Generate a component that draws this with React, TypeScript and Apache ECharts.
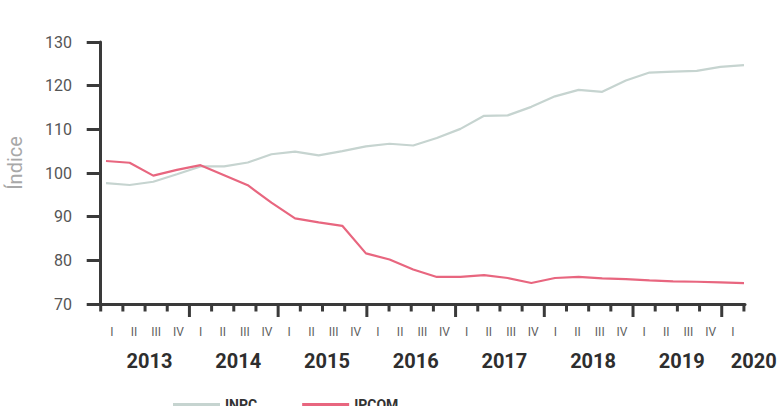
import React, { useEffect, useRef } from "react";
import * as echarts from "echarts";

// Data periods (quarters plotted by the lines)
const periods = [
  "2013-I", "2013-II", "2013-III", "2013-IV",
  "2014-I", "2014-II", "2014-III", "2014-IV",
  "2015-I", "2015-II", "2015-III", "2015-IV",
  "2016-I", "2016-II", "2016-III", "2016-IV",
  "2017-I", "2017-II", "2017-III", "2017-IV",
  "2018-I", "2018-II", "2018-III", "2018-IV",
  "2019-I", "2019-II", "2019-III", "2019-IV",
];

const inpc = [
  97.7, 97.25, 98.0, 99.7, 101.5, 101.5, 102.4, 104.3,
  104.9, 104.05, 105.0, 106.1, 106.7, 106.3, 108.0, 110.1,
  113.1, 113.2, 115.15, 117.55, 119.05, 118.6, 121.2, 123.0,
  123.2, 123.4, 124.3, 124.7,
];

const ipcom = [
  102.75, 102.35, 99.4, 100.7, 101.8, 99.5, 97.2, 93.2,
  89.6, 88.7, 87.9, 81.6, 80.2, 77.9, 76.2, 76.2,
  76.6, 75.95, 74.8, 75.95, 76.2, 75.85, 75.7, 75.4,
  75.2, 75.1, 74.95, 74.8,
];

// Axis tick labels
const quarterTickLabels = [
  "I", "II", "III", "IV", "I", "II", "III", "IV",
  "I", "II", "III", "IV", "I", "II", "III", "IV",
  "I", "II", "III", "IV", "I", "II", "III", "IV",
  "I", "II", "III", "IV", "I",
];
const yearLabels = ["2013", "2014", "2015", "2016", "2017", "2018", "2019", "2020"];

const Y_MIN = 70;
const Y_MAX = 130;
const Y_STEP = 10;

const AXIS_COLOR = "#3a3a3a";
const INPC_COLOR = "#c6d4d0";
const IPCOM_COLOR = "#e8667f";
const FONT = "Roboto";

export default function App() {
  const ref = useRef<HTMLDivElement>(null);

  useEffect(() => {
    if (!ref.current) return;
    const chart = echarts.init(ref.current, null, { renderer: "svg" });

    const top = 42;
    const height = 262;
    const frameLeft = 95;
    const frameWidth = 650;
    const unit = 22.18;
    const tickLeft = 100.7;
    const qMin = (frameLeft - tickLeft) / unit;
    const qMax = qMin + frameWidth / unit;

    const nQ = quarterTickLabels.length;
    const boundaries = quarterTickLabels.map((_, i) => i).concat([nQ]);
    const labelValues = quarterTickLabels.map((_, i) => i + 0.5);
    const yearValues = yearLabels.map((_, i) =>
      i === yearLabels.length - 1 ? nQ - 0.05 : i * 4 + 2.2
    );

    const yearFont = { fontFamily: FONT, fontWeight: "bold", fontSize: 20, color: "#2e2e2e" };

    const option: any = {
      animation: false,
      backgroundColor: "#ffffff",
      legend: {
        data: ["INPC", "IPCOM"],
        left: 168,
        top: 392.5,
        icon: "rect",
        itemWidth: 47,
        itemHeight: 3,
        itemGap: 45,
        textStyle: { fontFamily: FONT, fontWeight: "bold", fontSize: 14, color: "#333" },
      },
      grid: [
        { left: 106, top, width: 638, height, containLabel: false, outerBoundsMode: "none" },
        { left: frameLeft, top, width: frameWidth, height, containLabel: false, outerBoundsMode: "none" },
      ],
      xAxis: [
        // lines
        { gridIndex: 0, type: "category", data: periods, boundaryGap: false, show: false },
        // frame bottom line + quarter labels (units: quarter boundaries)
        {
          gridIndex: 1,
          type: "value",
          position: "bottom",
          min: qMin,
          max: qMax,
          splitLine: { show: false },
          axisLine: { show: true, onZero: false, lineStyle: { color: AXIS_COLOR, width: 3 } },
          axisTick: { show: false },
          axisLabel: {
            customValues: labelValues,
            margin: 22,
            fontFamily: FONT,
            fontSize: 12,
            color: "#5e5e5e",
            formatter: (v: number) => quarterTickLabels[Math.floor(v)] ?? "",
          },
        },
        // year labels
        {
          gridIndex: 1,
          type: "value",
          position: "bottom",
          offset: 0,
          min: qMin,
          max: qMax,
          splitLine: { show: false },
          axisLine: { show: false, onZero: false },
          axisTick: { show: false },
          axisLabel: {
            customValues: yearValues,
            margin: 47,
            ...yearFont,
            formatter: (v: number) => {
              const i = yearValues.findIndex((p) => Math.abs(p - v) < 0.01);
              if (i < 0) return "";
              return i === yearLabels.length - 1 ? `{last|${yearLabels[i]}}` : yearLabels[i];
            },
            rich: { last: { ...yearFont, padding: [0, 0, 0, 22] } },
          },
        },
      ],
      yAxis: [
        { gridIndex: 0, type: "value", min: Y_MIN, max: Y_MAX, show: false },
        {
          gridIndex: 1,
          type: "value",
          min: Y_MIN,
          max: Y_MAX,
          interval: Y_STEP,
          name: "Índice",
          nameLocation: "middle",
          nameGap: 70,
          nameTextStyle: {
            fontFamily: FONT,
            fontSize: 20,
            color: "#a8a8a8",
            padding: [0, 0, 0, 20],
          },
          splitLine: { show: false },
          axisLine: { show: true, lineStyle: { color: AXIS_COLOR, width: 3 } },
          axisTick: { show: true, length: 14, lineStyle: { color: AXIS_COLOR, width: 3 } },
          axisLabel: { margin: 23, fontFamily: FONT, fontSize: 16, color: "#555" },
        },
      ],
      series: [
        {
          name: "INPC",
          type: "line",
          xAxisIndex: 0,
          yAxisIndex: 0,
          data: inpc,
          symbol: "none",
          lineStyle: { color: INPC_COLOR, width: 2.2 },
          itemStyle: { color: INPC_COLOR },
        },
        {
          name: "IPCOM",
          type: "line",
          xAxisIndex: 0,
          yAxisIndex: 0,
          data: ipcom,
          symbol: "none",
          lineStyle: { color: IPCOM_COLOR, width: 2.2 },
          itemStyle: { color: IPCOM_COLOR },
        },
        {
          // x-axis tick marks at quarter boundaries (longer at year boundaries)
          type: "custom",
          xAxisIndex: 1,
          yAxisIndex: 1,
          clip: false,
          data: boundaries.map((b) => [b, Y_MIN]),
          renderItem: (params: any, api: any) => {
            const j = api.value(0);
            const p = api.coord([j, api.value(1)]);
            const big = j > 0 && j < nQ && j % 4 === 0;
            const len = big ? 13 : 7.5;
            return {
              type: "line",
              shape: { x1: p[0], y1: p[1], x2: p[0], y2: p[1] + len },
              style: { stroke: AXIS_COLOR, lineWidth: 3 },
            };
          },
        },
      ],
    };

    chart.setOption(option);
    return () => chart.dispose();
  }, []);

  return (
    <div
      ref={ref}
      style={{ position: "fixed", left: 0, top: 0, width: 778, height: 406, background: "#fff" }}
    />
  );
}
